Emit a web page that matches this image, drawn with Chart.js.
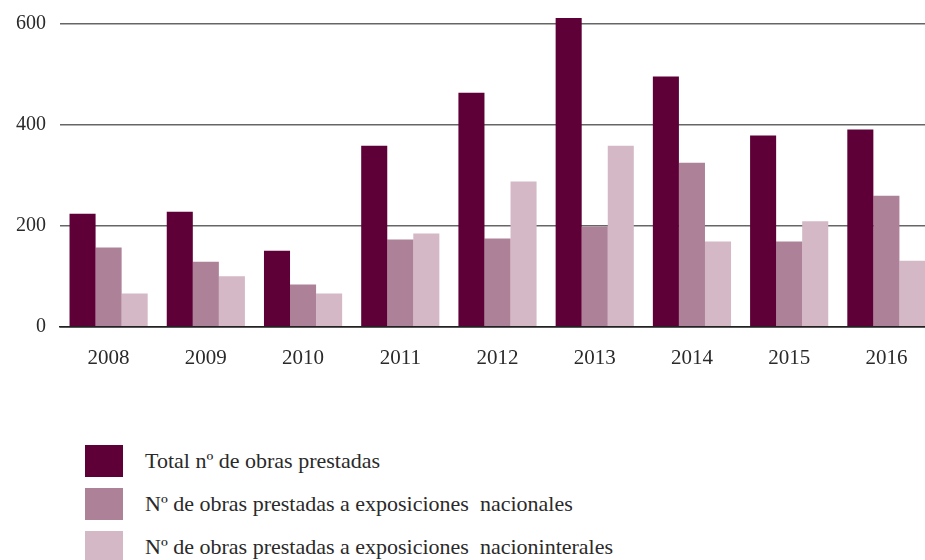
<!DOCTYPE html>
<html>
<head>
<meta charset="utf-8">
<script src="https://cdn.jsdelivr.net/npm/chart.js@4/dist/chart.umd.min.js"></script>
<style>
  html, body { margin: 0; padding: 0; background: #fff; width: 925px; height: 560px; overflow: hidden; }
  #wrap { position: absolute; left: 0; top: -17px; width: 935px; height: 407px; }
  #legend { position: absolute; left: 85px; top: 445px; font-family: "Liberation Serif", "DejaVu Serif", serif; font-size: 22px; color: #2a2a2a; }
  .item { display: flex; align-items: center; height: 32px; margin-bottom: 11px; }
  .sw { width: 38px; height: 32px; margin-right: 22px; flex: none; }
  .lbl { white-space: pre; }
</style>
</head>
<body>
<div id="wrap"><canvas id="c"></canvas></div>
<div id="legend"></div>
<script>
const categories = ["2008", "2009", "2010", "2011", "2012", "2013", "2014", "2015", "2016"];
const seriesNames = [
  "Total nº de obras prestadas",
  "Nº de obras prestadas a exposiciones  nacionales",
  "Nº de obras prestadas a exposiciones  nacioninterales"
];
const totalValues = [224, 228, 151, 359, 464, 612, 496, 379, 391];
const nacionalesValues = [157, 129, 84, 173, 175, 199, 325, 169, 260];
const internacionalesValues = [66, 100, 66, 185, 288, 359, 169, 209, 131];
const yTickValues = [0, 200, 400, 600];
const colors = ["#5e0037", "#ad8197", "#d4b8c6"];

const htmlLegend = {
  id: 'htmlLegend',
  afterUpdate(chart) {
    const box = document.getElementById('legend');
    box.innerHTML = '';
    chart.data.datasets.forEach(ds => {
      const item = document.createElement('div');
      item.className = 'item';
      const sw = document.createElement('span');
      sw.className = 'sw';
      sw.style.background = ds.backgroundColor;
      const t = document.createElement('span');
      t.className = 'lbl';
      t.textContent = ds.label;
      item.appendChild(sw); item.appendChild(t);
      box.appendChild(item);
    });
  }
};

new Chart(document.getElementById('c'), {
  type: 'bar',
  data: {
    labels: categories,
    datasets: [
      { label: seriesNames[0], data: totalValues, backgroundColor: colors[0] },
      { label: seriesNames[1], data: nacionalesValues, backgroundColor: colors[1] },
      { label: seriesNames[2], data: internacionalesValues, backgroundColor: colors[2] }
    ]
  },
  options: {
    responsive: true,
    maintainAspectRatio: false,
    animation: false,
    layout: { padding: { left: 0, right: 0, top: 0, bottom: 0 } },
    datasets: { bar: { categoryPercentage: 0.804, barPercentage: 1.0, borderWidth: 0 } },
    plugins: { legend: { display: false }, tooltip: { enabled: false } },
    scales: {
      x: {
        grid: { display: false, drawTicks: false },
        border: { display: true, color: '#222', width: 1.5 },
        ticks: { color: '#2a2a2a', padding: 19, font: { family: '"Liberation Serif", serif', size: 21 } }
      },
      y: {
        min: 0,
        max: 630,
        afterBuildTicks: (axis) => { axis.ticks = yTickValues.map(v => ({ value: v })); },
        afterFit: (scale) => { scale.width = 60; },
        grid: { color: (ctx) => ctx.tick && ctx.tick.value === 0 ? '#222' : '#666', lineWidth: 1.5, drawTicks: false },
        border: { display: false },
        ticks: { color: '#2a2a2a', padding: 14, font: { family: '"Liberation Serif", serif', size: 20 } }
      }
    }
  },
  plugins: [htmlLegend]
});
</script>
</body>
</html>
